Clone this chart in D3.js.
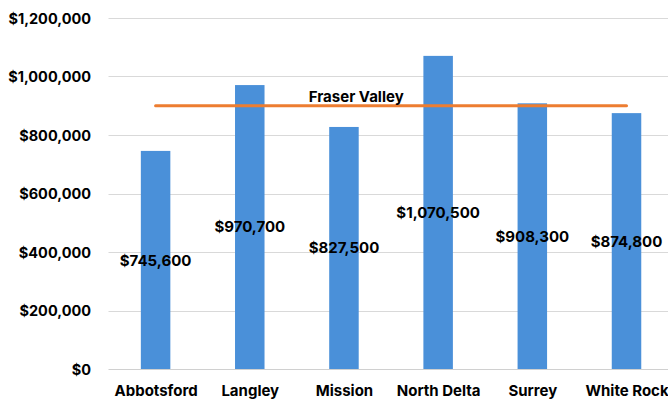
<!DOCTYPE html>
<html>
<head>
<meta charset="utf-8">
<script src="https://cdn.jsdelivr.net/npm/d3@7"></script>
<style>
  html, body { margin: 0; padding: 0; background: #fff; }
  svg { display: block; }
  text { font-family: Inter, "Liberation Sans", Arial, sans-serif; font-weight: 700; fill: #000; }
</style>
</head>
<body>
<svg id="chart" width="668" height="400"></svg>
<script>
// ---- data ----
const categories = ["Abbotsford", "Langley", "Mission", "North Delta", "Surrey", "White Rock"];
const values = [745600, 970700, 827500, 1070500, 908300, 874800];
const benchmarkName = "Fraser Valley";
const benchmarkValue = 900000;
const yTicks = [0, 200000, 400000, 600000, 800000, 1000000, 1200000];
// label anchor heights (in dollar units, as placed in the original chart)
const labelAnchors = [369200, 485500, 413700, 534400, 452300, 435200];

// ---- layout ----
const W = 668, H = 400;
const plotLeft = 108.5, plotRight = 673.6, plotTop = 18, plotBottom = 369;
const barWidth = 29.5;

const svg = d3.select("#chart");

const x = d3.scalePoint().domain(categories).range([plotLeft, plotRight]).padding(0.5);
const y = d3.scaleLinear().domain([0, 1200000]).range([plotBottom, plotTop]);

const fmt = v => "$" + d3.format(",")(v);

// gridlines
svg.append("g").selectAll("line").data(yTicks).join("line")
  .attr("x1", plotLeft).attr("x2", W)
  .attr("y1", d => Math.round(y(d)) + 0.5).attr("y2", d => Math.round(y(d)) + 0.5)
  .attr("stroke", d => d === 0 ? "#d0d0d0" : "#d9d9d9")
  .attr("stroke-width", 1.2);

// y axis labels
const yAxis = d3.axisLeft(y).tickValues(yTicks).tickFormat(fmt).tickSize(0).tickPadding(0);
const gy = svg.append("g").attr("transform", `translate(91,0)`).call(yAxis);
gy.select(".domain").remove();
gy.selectAll("text").attr("font-size", 14.5).attr("dy", "0.36em")
  .style("font-family", 'Inter, "Liberation Sans", Arial, sans-serif').style("font-weight", 700).attr("fill", "#000");

// bars
svg.append("g").selectAll("rect").data(values).join("rect")
  .attr("x", (d, i) => x(categories[i]) - barWidth / 2)
  .attr("width", barWidth)
  .attr("y", d => y(d))
  .attr("height", d => y(0) - y(d))
  .attr("fill", "#4a90d9");

// benchmark line
svg.append("line")
  .attr("x1", x(categories[0])).attr("x2", x(categories[categories.length - 1]))
  .attr("y1", y(benchmarkValue)).attr("y2", y(benchmarkValue))
  .attr("stroke", "#ed7d31").attr("stroke-width", 3).attr("stroke-linecap", "round");

svg.append("text")
  .attr("x", x(categories[2]) + x.step() * 0.13)
  .attr("y", y(benchmarkValue) - 4)
  .attr("text-anchor", "middle")
  .attr("font-size", 15)
  .text(benchmarkName);

// value labels
svg.append("g").selectAll("text").data(values).join("text")
  .attr("x", (d, i) => x(categories[i]))
  .attr("y", (d, i) => y(labelAnchors[i]))
  .attr("dy", "0.36em")
  .attr("text-anchor", "middle")
  .attr("font-size", 15)
  .text(d => fmt(d));

// x axis labels
const xAxis = d3.axisBottom(x).tickSize(0).tickPadding(0);
const gx = svg.append("g").attr("transform", `translate(0,${plotBottom})`).call(xAxis);
gx.select(".domain").remove();
gx.selectAll("text").attr("font-size", 15).attr("dy", 0).attr("y", 27)
  .style("font-family", 'Inter, "Liberation Sans", Arial, sans-serif').style("font-weight", 700).attr("fill", "#000");
</script>
</body>
</html>
